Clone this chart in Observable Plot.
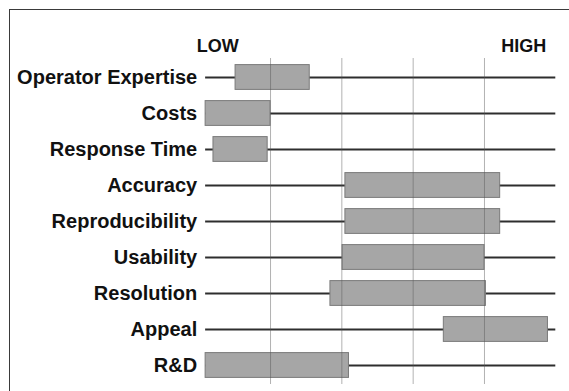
<!DOCTYPE html>
<html>
<head>
<meta charset="utf-8">
<script src="https://cdn.jsdelivr.net/npm/d3@7"></script>
<script src="https://cdn.jsdelivr.net/npm/@observablehq/plot@0.6"></script>
<style>
  html, body { margin: 0; padding: 0; background: #fff; }
  #wrap { position: relative; width: 569px; height: 391px; overflow: hidden; }
  #frame { position: absolute; left: 9px; top: 9px; width: 600px; height: 420px;
           border-left: 1.5px solid #3a3a3a; border-top: 1.5px solid #3a3a3a; box-sizing: border-box; }
  #chart { position: absolute; left: 0; top: 0; }
</style>
</head>
<body>
<div id="wrap"><div id="frame"></div><div id="chart"></div></div>
<script>
const categories = ["Operator Expertise", "Costs", "Response Time", "Accuracy", "Reproducibility", "Usability", "Resolution", "Appeal", "R&D"];
const lows  = [0.51, 0.09, 0.20, 2.05, 2.05, 2.01, 1.84, 3.43, 0.09];
const highs = [1.55, 1.00, 0.96, 4.22, 4.22, 4.00, 4.02, 4.89, 2.10];
const gridTicks = [1, 2, 3, 4];
const endLabels = ["LOW", "HIGH"];
const endPositions = [0.26, 4.55];
const lineStart = 0.09, lineEnd = 5;

const rows = categories.map((c, i) => ({name: c, lo: lows[i], hi: highs[i]}));
const ends = endLabels.map((t, i) => ({t, x: endPositions[i], w: i === 0 ? "normal" : "bold"}));

const chart = Plot.plot({
  width: 569,
  height: 391,
  marginLeft: 198.7,
  marginRight: 13.7,
  marginTop: 58,
  marginBottom: 7,
  style: {fontFamily: "'Liberation Sans', Arial, sans-serif", background: "transparent", color: "#111"},
  x: {domain: [0, 5], axis: null},
  y: {domain: categories, padding: 0, label: null, tickSize: 0, tickPadding: 2},
  marks: [
    Plot.axisY({tickSize: 0, tickPadding: 2, fontSize: 20, fontWeight: "bold", label: null}),
    Plot.ruleY(rows, {y: "name", x1: lineStart, x2: lineEnd, stroke: "#2e2e2e", strokeWidth: 2}),
    Plot.barX(rows, {y: "name", x1: "lo", x2: "hi", fill: "#a6a6a6", stroke: "#7a7a7a", strokeWidth: 1, insetTop: 5.6, insetBottom: 5.6}),
    Plot.ruleX(gridTicks, {stroke: "#555", strokeOpacity: 0.45, strokeWidth: 1}),
    Plot.text(ends, {x: "x", text: "t", frameAnchor: "top", lineAnchor: "bottom", dy: -7, fontSize: 18, fontWeight: "bold", fill: "#111"})
  ]
});
document.getElementById("chart").appendChild(chart);
</script>
</body>
</html>
